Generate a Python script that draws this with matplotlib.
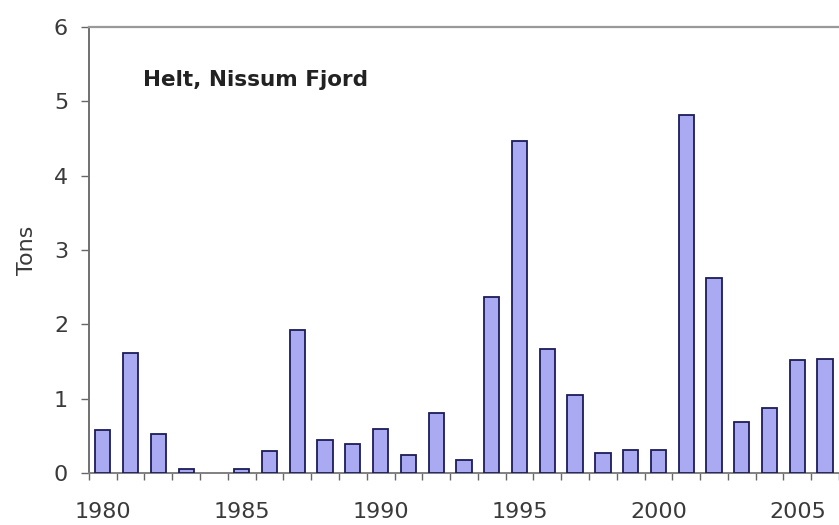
import numpy as np
import matplotlib
matplotlib.use("Agg")
import matplotlib.pyplot as plt

# catch per year, Helt in Nissum Fjord (tons)
years = list(range(1980, 2007))
tons = [0.58, 1.62, 0.53, 0.05, 0.0, 0.06, 0.30, 1.92, 0.45, 0.39,
        0.59, 0.24, 0.81, 0.17, 2.37, 4.46, 1.67, 1.05, 0.27, 0.31,
        0.31, 4.82, 2.62, 0.68, 0.88, 1.52, 1.53]
label_years = [1980, 1985, 1990, 1995, 2000, 2005]
y_ticks = [0, 1, 2, 3, 4, 5, 6]

plt.rcParams['font.family'] = ['DejaVu Sans']

fig = plt.figure(figsize=(8.39, 5.25), dpi=100)
ax = fig.add_axes([0.106, 0.099, 0.894, 0.8496])

x = np.arange(len(years))
bars = ax.bar(x, tons, width=0.55, color='#aaaaf2', edgecolor='#1c1c5a', linewidth=1.3, zorder=3)
# no outline for years with no catch
for b, v in zip(bars, tons):
    if v == 0:
        b.set_edgecolor('none')

ax.set_ylim(0, 6)
ax.set_xlim(-0.5, 26.38)
ax.set_yticks(y_ticks)

lab_pos = [years.index(y) for y in label_years]
ax.set_xticks(lab_pos)
ax.set_xticklabels([str(y) for y in label_years])
ax.set_xticks(np.arange(len(years) + 1) - 0.5, minor=True)
ax.tick_params(axis='x', which='major', length=0, pad=21, labelsize=16, labelcolor='#3a3a3a')
ax.tick_params(axis='x', which='minor', length=5, direction='out', color='#666666', width=1)
ax.tick_params(axis='y', length=6, direction='out', color='#666666', width=1,
               pad=9, labelsize=16, labelcolor='#3a3a3a')

ax.spines['right'].set_visible(False)
ax.spines['top'].set_color('#999999')
ax.spines['top'].set_linewidth(1.6)
ax.spines['left'].set_color('#707070')
ax.spines['left'].set_linewidth(1.4)
ax.spines['bottom'].set_color('#808080')
ax.spines['bottom'].set_linewidth(1.4)

ax.set_ylabel('Tons', fontsize=16, color='#3a3a3a', labelpad=12)
ax.text(0.072, 0.881, 'Helt, Nissum Fjord', transform=ax.transAxes,
        fontsize=15.5, fontweight='bold', color='#222222', ha='left', va='center')

fig.savefig('out.png', dpi=100)
